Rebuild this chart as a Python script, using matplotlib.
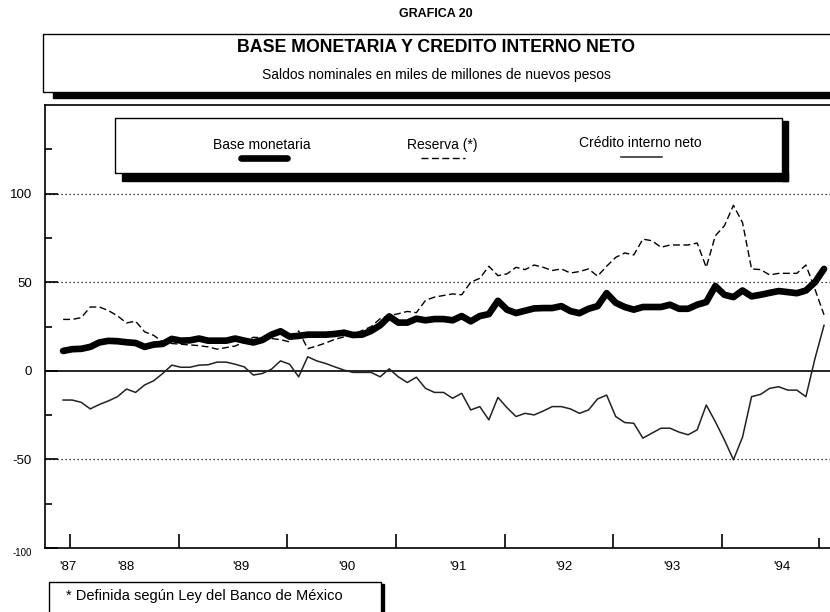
import numpy as np
import matplotlib
matplotlib.use("Agg")
import matplotlib.pyplot as plt
from matplotlib.patches import Rectangle
from matplotlib.lines import Line2D

plt.rcParams['font.family'] = ['Liberation Sans', 'DejaVu Sans']

# Monthly balances, Dec 1987 - Dec 1994
base_monetaria = [11.2, 12.2, 12.4, 13.5, 16, 16.9, 16.7, 16.1, 15.7, 13.5,
                  14.8, 15.2, 18, 17, 17.2, 18.2, 17, 17, 17, 18.2,
                  17, 16, 17.4, 20.4, 22.3, 19.3, 19.7, 20.4, 20.4, 20.4,
                  20.8, 21.5, 20.2, 20.4, 22.5, 25.7, 30.7, 27.2, 27.2, 29.4,
                  28.5, 29.2, 29.2, 28.5, 30.9, 27.9, 30.9, 32, 39.5, 34.5,
                  32.6, 33.9, 35.2, 35.4, 35.4, 36.5, 33.7, 32.5, 35, 36.5,
                  43.8, 38.4, 36, 34.5, 36, 36, 36, 37.3, 35, 35,
                  37.3, 38.8, 47.8, 42.9, 41.6, 45.3, 42, 42.9, 44, 45,
                  44.4, 43.8, 45.3, 50, 57.5]
reserva = [29, 29, 30, 36, 36, 34, 31, 27, 28, 22,
           20, 16.3, 15.4, 15, 14.6, 14.2, 13.5, 12.2, 13.1, 14,
           16.3, 18.9, 18.7, 18.2, 17.6, 16.3, 22.5, 12.5, 14, 15.7,
           17.8, 19.1, 20.8, 22.7, 24.9, 29.4, 31.1, 32.2, 33.5, 32.8,
           39.7, 41.6, 42.5, 43.4, 42.9, 50, 52.2, 59, 53.7, 54.7,
           58.4, 57.1, 59.7, 58.4, 56.6, 57.5, 55.2, 56, 57.5, 53.4,
           59, 64, 66.5, 65.4, 74.3, 73.4, 69.7, 71, 71, 71,
           72.1, 58.4, 76.2, 81.8, 93.4, 83.7, 57.5, 57.1, 54.1, 55,
           55, 55, 59.7, 46, 31.6]
credito_interno = [-16.5, -16.5, -17.8, -21.5, -19, -17, -14.6, -10.3, -12.2, -8,
                   -5.6, -1.5, 3.2, 2, 2, 3.2, 3.4, 4.9, 4.9, 3.7,
                   2.2, -2.4, -1.5, 0.9, 5.6, 3.7, -3.4, 7.9, 5.6, 4.1,
                   2.2, 0.4, -0.9, -0.9, -0.9, -3.4, 1.1, -3.4, -6.6, -3.6,
                   -9.9, -12.2, -12.2, -15.5, -12.7, -22.1, -20.2, -27.7, -15, -20.8,
                   -25.8, -24, -24.9, -22.7, -20.2, -20.2, -21.5, -24, -22.1, -15.9,
                   -13.7, -25.8, -29.2, -29.6, -38, -35.2, -32.4, -32.4, -34.6, -36.1,
                   -33.3, -19.3, -28.7, -39, -50.2, -37.5, -14.6, -13.3, -9.9, -9,
                   -10.9, -10.9, -14.6, 6.9, 25.7]

year_labels = ["'87", "'88", "'89", "'90", "'91", "'92", "'93", "'94"]
year_label_pos = [0.5, 6.95, 19.65, 31.35, 43.6, 55.3, 67.2, 79.4]
y_major = [-100, -50, 0, 50, 100]
y_minor = [-75, -25, 25, 75, 125]

months = np.arange(len(base_monetaria))

fig = plt.figure(figsize=(8.3, 6.12), dpi=100)
ax = fig.add_axes([45 / 830, 1 - 548 / 612, 1 - 45 / 830, (548 - 105) / 612])

for v in (100, 50, -50):
    ax.axhline(v, color='black', lw=0.9, ls=(0, (1, 2.2)))
ax.axhline(0, color='black', lw=1.2)

ax.plot(months, reserva, color='black', lw=1.0, dashes=(5, 2.5))
ax.plot(months, credito_interno, color='#222222', lw=1.1)
ax.plot(months, base_monetaria, color='black', lw=4.8,
        solid_capstyle='round', solid_joinstyle='round')

ax.set_xlim(-2, 84.66)
ax.set_ylim(-100, 150)
ax.spines['right'].set_visible(False)
for s in ('left', 'bottom', 'top'):
    ax.spines[s].set_linewidth(1.2)

ax.set_yticks(y_major)
ax.set_yticklabels([str(v) for v in y_major])
ax.set_yticks(y_minor, minor=True)
ax.tick_params(axis='y', which='major', direction='in', length=9, width=1.2,
               pad=9.4, labelsize=9.5)
ax.tick_params(axis='y', which='minor', direction='in', length=5, width=1.2)
lab100 = ax.get_yticklabels()[0]
lab100.set_fontsize(7)
lab100.set_va('top')

# year boundaries
ax.set_xticks(np.arange(7) * 12 + 0.75)
ax.set_xticklabels([])
ax.set_xticks(year_label_pos, minor=True)
ax.set_xticklabels(year_labels, minor=True)
ax.tick_params(axis='x', which='major', direction='in', length=10, width=1.2)
ax.tick_params(axis='x', which='minor', length=0, pad=9.5, labelsize=9.5)

sec = ax.secondary_xaxis('bottom')
sec.set_xticks([83.4])
sec.tick_params(direction='in', length=7, width=1.2, labelbottom=False)
sec.spines['bottom'].set_visible(False)

# boxes, titles and legend drawn in pixel units
deco = fig.add_axes([0, 0, 1, 1], zorder=5)
deco.set_xlim(0, 830)
deco.set_ylim(612, 0)
deco.axis('off')

deco.text(436, 14, 'GRAFICA 20', ha='center', va='center', fontsize=9, fontweight='bold')
deco.add_patch(Rectangle((53, 92), 790, 6, color='black'))
deco.add_patch(Rectangle((43, 34), 800, 58, facecolor='white', edgecolor='black', lw=1))
deco.text(436, 47, 'BASE MONETARIA Y CREDITO INTERNO NETO', ha='center', va='center',
          fontsize=12.8, fontweight='bold')
deco.text(436, 75, 'Saldos nominales en miles de millones de nuevos pesos',
          ha='center', va='center', fontsize=10)

# legend
deco.add_patch(Rectangle((122, 173), 666, 8, color='black'))
deco.add_patch(Rectangle((782, 121), 6, 60, color='black'))
deco.add_patch(Rectangle((115, 118), 667, 55, facecolor='white', edgecolor='black', lw=1))
deco.text(262, 149, 'Base monetaria', ha='center', va='baseline', fontsize=10)
deco.add_line(Line2D([241, 287], [158, 158], color='black', lw=4.8, solid_capstyle='round'))
deco.text(442, 149.5, 'Reserva (*)', ha='center', va='baseline', fontsize=10)
deco.add_line(Line2D([421, 465], [158, 158], color='black', lw=1.0, dashes=(5, 2.5)))
deco.text(640, 147, 'Crédito interno neto', ha='center', va='baseline', fontsize=10)
deco.add_line(Line2D([621, 662], [157, 157], color='#222222', lw=1.1))

# footnote
deco.add_patch(Rectangle((380, 584), 4, 40, color='black'))
deco.add_patch(Rectangle((49, 582), 332, 40, facecolor='white', edgecolor='black', lw=1))
deco.text(66, 600, '* Definida según Ley del Banco de México', va='baseline', fontsize=10.5)

fig.savefig('out.png', dpi=100)
